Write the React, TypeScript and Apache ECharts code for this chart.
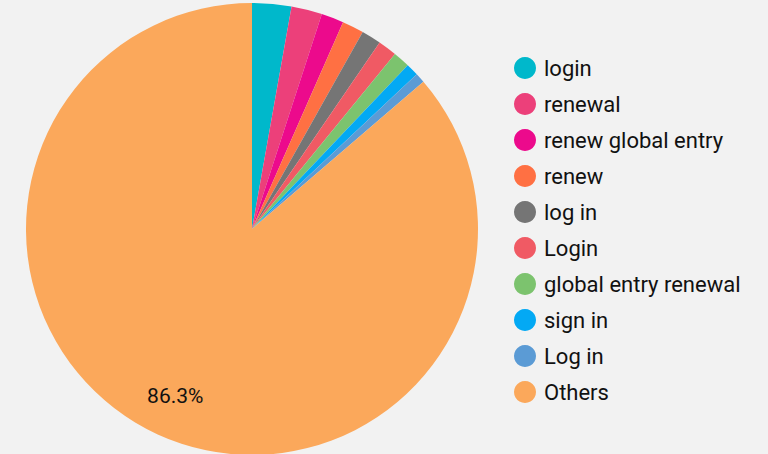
import React, { useEffect, useRef } from "react";
import * as echarts from "echarts";

const categories = [
  "login",
  "renewal",
  "renew global entry",
  "renew",
  "log in",
  "Login",
  "global entry renewal",
  "sign in",
  "Log in",
  "Others",
];
const values = [2.8, 2.2, 1.6, 1.55, 1.4, 1.35, 1.2, 0.9, 0.7, 86.3];
const colors = [
  "#00b8cb",
  "#ec407a",
  "#ec0a8c",
  "#ff7043",
  "#757575",
  "#f05a64",
  "#7cc36e",
  "#03a9f4",
  "#5b9bd5",
  "#fba85b",
];

export default function App() {
  const ref = useRef<HTMLDivElement>(null);
  useEffect(() => {
    if (!ref.current) return;
    const chart = echarts.init(ref.current, null, { renderer: "svg" });
    const data = categories.map((name, i) => ({
      name,
      value: values[i],
      itemStyle: { color: colors[i] },
    }));
    const overlay = categories.map((name, i) => ({
      name,
      value: values[i],
      itemStyle: { color: "rgba(0,0,0,0)" },
      label: { show: name === "Others" },
    }));
    chart.setOption({
      animation: false,
      backgroundColor: "#f2f2f2",
      legend: {
        orient: "vertical",
        left: 514,
        top: 57,
        padding: 0,
        icon: "circle",
        itemWidth: 22,
        itemHeight: 22,
        itemGap: 14,
        data: categories,
        textStyle: {
          fontFamily: "Roboto",
          fontSize: 22,
          lineHeight: 22,
          color: "#111",
          padding: [0, 0, 0, 3],
        },
      },
      series: [
        {
          type: "pie",
          center: [252, 229],
          radius: [0, 226],
          startAngle: 90,
          clockwise: true,
          data,
          label: { show: false },
          labelLine: { show: false },
          itemStyle: { borderWidth: 0 },
          emphasis: { disabled: true },
        },
        {
          type: "pie",
          center: [252, 229],
          radius: [136, 226],
          startAngle: 90,
          clockwise: true,
          silent: true,
          z: 3,
          data: overlay,
          label: {
            show: false,
            position: "inside",
            fontFamily: "Roboto",
            fontSize: 21,
            color: "#111",
            formatter: (p: any) => p.percent.toFixed(1) + "%",
          },
          labelLine: { show: false },
          emphasis: { disabled: true },
        },
      ],
    });
    return () => chart.dispose();
  }, []);
  return (
    <div
      ref={ref}
      style={{ position: "fixed", left: 0, top: 0, width: 768, height: 454 }}
    />
  );
}
